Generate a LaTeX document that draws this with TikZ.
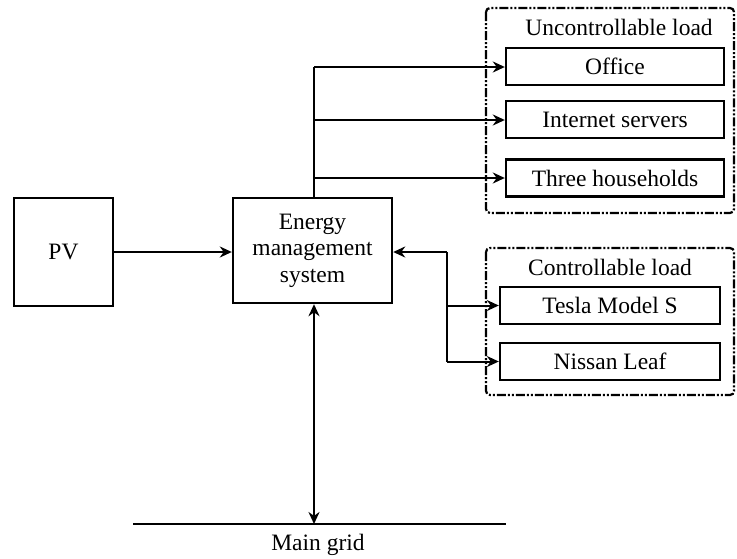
\documentclass[tikz,border=0pt]{standalone}
\usepackage{fontspec}
\setmainfont{Liberation Serif}
\usetikzlibrary{arrows.meta}
\begin{document}
\fontsize{11.75}{13.25}\selectfont
\begin{tikzpicture}[x=0.5pt,y=-0.5pt,
        box/.style={draw,line width=1.2pt,inner sep=0pt,align=center},
        loadbox/.style={box,minimum height=18.5pt},
        group/.style={line width=1.1pt,rounded corners=2pt,
            dash pattern=on 4.5pt off 1pt on 1pt off 1pt on 1pt off 1pt},
        conn/.style={line width=1pt},
        tip/.style={-{Stealth[length=6pt,width=5.5pt]}}]
\useasboundingbox (0,0) rectangle (737,558);

\node[box,minimum width=49.5pt,minimum height=54pt] (pv) at (63.5,252) {PV};
\node[box,minimum width=79.5pt,minimum height=52.5pt] (ems) at (312.5,250.5)
    {Energy\\management\\system};

% uncontrollable load
\draw[group] (486,8) rectangle (734,213);
\node (unc) at (619,27) {Uncontrollable load};
\node[loadbox,minimum width=109pt] (office) at (615,66.5) {Office};
\node[loadbox,minimum width=109pt] (servers) at (615,119.5) {Internet servers};
\node[loadbox,minimum width=109pt] (houses) at (615,178) {Three households};

% controllable load
\draw[group] (486,248) rectangle (734,395);
\node (con) at (610,267) {Controllable load};
\node[loadbox,minimum width=110pt] (tesla) at (610,305.5) {Tesla Model S};
\node[loadbox,minimum width=110pt] (leaf) at (610,361.5) {Nissan Leaf};

% main grid
\coordinate (gridL) at (133,524);
\coordinate (gridR) at (506,524);
\draw[line width=1.2pt] (gridL) -- (gridR);
\node (grid) at (318,545) {Main grid};

\draw[conn,tip] (pv.east |- 0,252) -- (ems.west |- 0,252);

\coordinate (up) at (314,67);
\draw[conn] (ems.north -| up) -- (up);
\draw[conn,tip] (up) -- (office.west |- up);
\draw[conn,tip] (up |- 0,120) -- (servers.west |- 0,120);
\draw[conn,tip] (up |- 0,178) -- (houses.west |- 0,178);

\coordinate (fork) at (447,252);
\draw[conn,tip] (fork) -- (ems.east |- fork);
\draw[conn] (fork) -- (fork |- leaf.west);
\draw[conn,tip] (fork |- tesla.west) -- (tesla.west);
\draw[conn,tip] (fork |- leaf.west) -- (leaf.west);

\draw[conn,{Stealth[length=6pt,width=5.5pt]}-{Stealth[length=6pt,width=5.5pt]}]
    (ems.south -| up) -- (gridL -| up);
\end{tikzpicture}
\end{document}
